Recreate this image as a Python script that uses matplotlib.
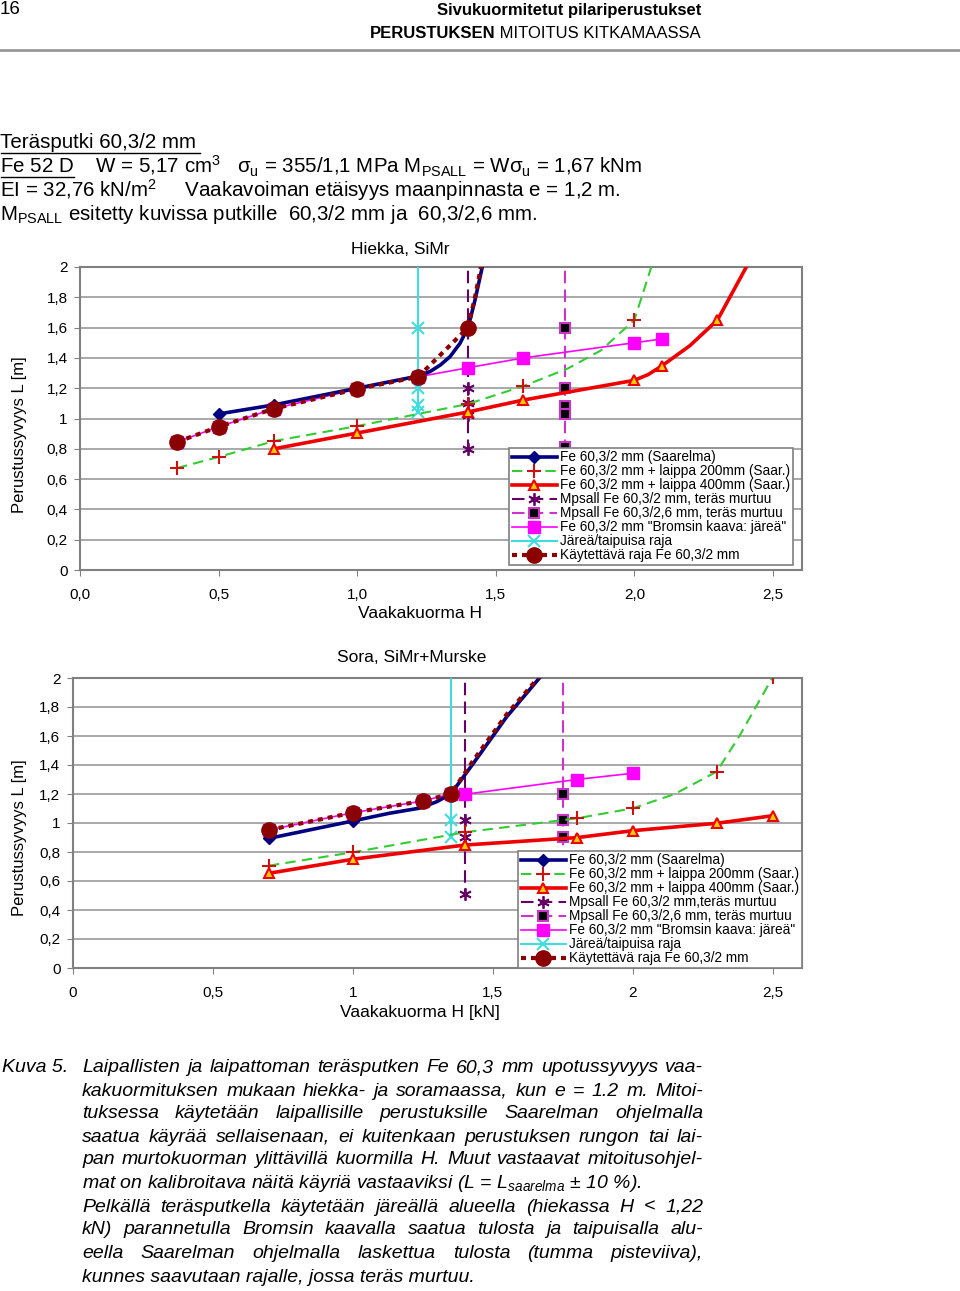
import matplotlib
matplotlib.use('Agg')
from matplotlib import pyplot as plt
from matplotlib.lines import Line2D

plt.rcParams['font.family'] = ['Liberation Sans', 'DejaVu Sans']
plt.rcParams['mathtext.fontset'] = 'custom'
plt.rcParams['mathtext.rm'] = 'Liberation Sans'
plt.rcParams['mathtext.it'] = 'Liberation Sans:italic'
plt.rcParams['mathtext.bf'] = 'Liberation Sans:bold'

W, H = 960, 1291

# ---- data: Hiekka, SiMr (top chart) ----
hk_saar_h = [0.5, 0.7, 1.0, 1.22, 1.263, 1.3, 1.335, 1.371, 1.4, 1.425, 1.455]
hk_saar_l = [1.03, 1.09, 1.2, 1.28, 1.31, 1.353, 1.408, 1.496, 1.6, 1.78, 2.03]
hk_saar_mk = [0, 1, 2, 3, 8]

hk_l200_h = [0.35, 0.5, 0.7, 1.0, 1.22, 1.4, 1.6, 1.76, 1.88, 2.0, 2.063]
hk_l200_l = [0.673, 0.746, 0.851, 0.95, 1.03, 1.096, 1.214, 1.33, 1.45, 1.65, 2.01]
hk_l200_mk = [0, 1, 2, 3, 5, 6, 9]

hk_l400_h = [0.7, 1.0, 1.4, 1.6, 2.0, 2.05, 2.1, 2.2, 2.3, 2.413]
hk_l400_l = [0.8, 0.904, 1.043, 1.122, 1.252, 1.29, 1.348, 1.48, 1.65, 2.03]
hk_l400_mk = [0, 1, 2, 3, 4, 6, 8]

hk_mp2_h = [1.4, 1.4, 1.4, 1.4, 1.4]
hk_mp2_l = [2.1, 1.2, 1.1, 1.02, 0.8]

hk_mp26_h = [1.75, 1.75, 1.75, 1.75, 1.75, 1.75]
hk_mp26_l = [2.1, 1.6, 1.2, 1.085, 1.03, 0.81]

hk_brom_h = [0.35, 0.5, 0.7, 1.0, 1.22, 1.4, 1.6, 2.0, 2.1]
hk_brom_l = [0.845, 0.945, 1.065, 1.195, 1.275, 1.335, 1.4, 1.5, 1.525]

hk_jar_h = [1.22, 1.22, 1.22, 1.22, 1.22]
hk_jar_l = [2.1, 1.6, 1.2, 1.09, 1.04]

hk_kayt_h = [0.35, 0.5, 0.7, 1.0, 1.22, 1.4, 1.425, 1.45]
hk_kayt_l = [0.845, 0.945, 1.065, 1.195, 1.275, 1.6, 1.8, 2.03]
hk_kayt_mk = [0, 1, 2, 3, 4, 5]

# ---- data: Sora, SiMr+Murske (bottom chart) ----
so_saar_h = [0.7, 1.0, 1.13, 1.24, 1.3, 1.35, 1.43, 1.55, 1.68]
so_saar_l = [0.894, 1.014, 1.067, 1.103, 1.147, 1.2, 1.41, 1.733, 2.03]
so_saar_mk = [0, 1, 5]

so_l200_h = [0.7, 1.0, 1.4, 1.75, 1.8, 2.0, 2.15, 2.3, 2.38, 2.5]
so_l200_l = [0.706, 0.798, 0.936, 1.02, 1.032, 1.101, 1.2, 1.354, 1.595, 2.005]
so_l200_mk = [0, 1, 2, 4, 5, 7, 9]

so_l400_h = [0.7, 1.0, 1.4, 1.8, 2.0, 2.3, 2.5]
so_l400_l = [0.653, 0.75, 0.848, 0.899, 0.947, 0.998, 1.05]

so_mp2_h = [1.4, 1.4, 1.4, 1.4]
so_mp2_l = [2.1, 1.02, 0.905, 0.51]

so_mp26_h = [1.75, 1.75, 1.75, 1.75, 1.75]
so_mp26_l = [2.1, 1.2, 1.02, 0.906, 0.7]

so_brom_h = [0.7, 1.0, 1.25, 1.35, 1.4, 1.8, 2.0]
so_brom_l = [0.952, 1.071, 1.152, 1.2, 1.198, 1.3, 1.343]

so_jar_h = [1.35, 1.35, 1.35, 1.35]
so_jar_l = [2.1, 1.2, 1.02, 0.905]

so_kayt_h = [0.7, 1.0, 1.25, 1.35, 1.43, 1.55, 1.68]
so_kayt_l = [0.952, 1.071, 1.152, 1.2, 1.43, 1.75, 2.04]
so_kayt_mk = [0, 1, 2, 3]

labels = ['Fe 60,3/2 mm (Saarelma)',
          'Fe 60,3/2 mm + laippa 200mm (Saar.)',
          'Fe 60,3/2 mm + laippa 400mm (Saar.)',
          'Mpsall Fe 60,3/2 mm, teräs murtuu',
          'Mpsall Fe 60,3/2,6 mm, teräs murtuu',
          'Fe 60,3/2 mm "Bromsin kaava: järeä"',
          'Järeä/taipuisa raja',
          'Käytettävä raja Fe 60,3/2 mm']
labels_b = list(labels)
labels_b[3] = 'Mpsall Fe 60,3/2 mm,teräs murtuu'

y_ticks = [0, 0.2, 0.4, 0.6, 0.8, 1.0, 1.2, 1.4, 1.6, 1.8, 2.0]
y_ticklabels = ['0', '0,2', '0,4', '0,6', '0,8', '1', '1,2', '1,4', '1,6', '1,8', '2']
x_ticks = [0, 0.5, 1.0, 1.5, 2.0, 2.5]
x_ticklabels_top = ['0,0', '0,5', '1,0', '1,5', '2,0', '2,5']
x_ticklabels_bot = ['0', '0,5', '1', '1,5', '2', '2,5']


def fx(x):
    return x / W


def fy(y):
    return 1 - y / H


def draw_chart(ax, d, labs, xticklabels, legend_anchor):
    (saar, l200, l400, mp2, mp26, brom, jar, kayt) = d
    h = []
    h.append(ax.plot(*saar[:2], color='#000080', lw=2.6, marker='D', ms=6,
                     markevery=saar[2], zorder=6)[0])
    h.append(ax.plot(*l200[:2], color='#33CC33', lw=1.5, ls=(0, (5, 3)),
                     marker='+', ms=10, mew=1.5, mec='#CC1111',
                     markevery=l200[2], zorder=4)[0])
    h.append(ax.plot(*l400[:2], color='#EE0000', lw=2.6, marker='^', ms=7,
                     mfc='#FFCC00', mec='#EE0000', mew=1.5,
                     markevery=l400[2], zorder=4)[0])
    h.append(ax.plot(*mp2[:2], color='#660066', lw=1.5, ls=(0, (6, 3)),
                     marker=(6, 2, 0), ms=9, mew=1.3, mec='#660066',
                     markevery=list(range(1, len(mp2[0]))), zorder=3)[0])
    h.append(ax.plot(*mp26[:2], color='#CC33CC', lw=1.5, ls=(0, (6, 3)),
                     marker='s', ms=7, mfc='black', mec='#CC33CC', mew=1.5,
                     markevery=mp26[2], zorder=3)[0])
    h.append(ax.plot(*brom[:2], color='#FF00FF', lw=1.2, marker='s', ms=8,
                     zorder=5)[0])
    h.append(ax.plot(*jar[:2], color='#40DDE0', lw=1.5, marker='x', ms=9,
                     mew=1.5, markevery=list(range(1, len(jar[0]))), zorder=3)[0])
    h.append(ax.plot(*kayt[:2], color='#8B0000', lw=3, ls=(0, (1.2, 1.2)),
                     marker='o', ms=11, markevery=kayt[2], zorder=7)[0])

    ax.set_xlim(0, 2.605)
    ax.set_ylim(0, 2.0)
    ax.set_yticks(y_ticks)
    ax.set_yticklabels(y_ticklabels)
    ax.set_xticks(x_ticks)
    ax.set_xticklabels(xticklabels)
    ax.tick_params(axis='y', labelsize=11, length=4, color='#808080', pad=5)
    ax.tick_params(axis='x', labelsize=11, length=4, color='#808080', pad=9)
    ax.yaxis.grid(True, color='#999999', lw=1.2)
    ax.set_axisbelow(True)
    for s in ax.spines.values():
        s.set_color('#808080')
        s.set_linewidth(1.5)

    leg = ax.legend(h, labs, loc='lower right', bbox_to_anchor=legend_anchor,
                    borderaxespad=0, fontsize=9.8, handlelength=3.3,
                    labelspacing=0.0, handletextpad=0.25, borderpad=0.2,
                    fancybox=False, framealpha=1, edgecolor='#808080')
    leg.get_frame().set_linewidth(1.2)
    leg.set_zorder(10)


fig = plt.figure(figsize=(9.6, 12.91), dpi=100)

ax1 = fig.add_axes([fx(80), fy(570), fx(722), 303 / H])
draw_chart(ax1, [(hk_saar_h, hk_saar_l, hk_saar_mk),
                 (hk_l200_h, hk_l200_l, hk_l200_mk),
                 (hk_l400_h, hk_l400_l, hk_l400_mk),
                 (hk_mp2_h, hk_mp2_l),
                 (hk_mp26_h, hk_mp26_l, [1, 2, 3, 4, 5]),
                 (hk_brom_h, hk_brom_l),
                 (hk_jar_h, hk_jar_l),
                 (hk_kayt_h, hk_kayt_l, hk_kayt_mk)],
           labels, x_ticklabels_top, (0.9875, 0.0165))

ax2 = fig.add_axes([fx(73), fy(968), fx(729), 290 / H])
draw_chart(ax2, [(so_saar_h, so_saar_l, so_saar_mk),
                 (so_l200_h, so_l200_l, so_l200_mk),
                 (so_l400_h, so_l400_l, list(range(len(so_l400_h)))),
                 (so_mp2_h, so_mp2_l),
                 (so_mp26_h, so_mp26_l, [1, 2, 3]),
                 (so_brom_h, so_brom_l),
                 (so_jar_h, so_jar_l),
                 (so_kayt_h, so_kayt_l, so_kayt_mk)],
           labels_b, x_ticklabels_bot, (1.0, 0.0))

# chart titles and axis labels
fig.text(fx(400), fy(250), 'Hiekka, SiMr', fontsize=12.5, ha='center', va='center')
fig.text(fx(420), fy(613), 'Vaakakuorma H', fontsize=12.5, ha='center', va='center')
fig.text(fx(20), fy(435), 'Perustussyvyys L [m]', fontsize=12, rotation=90,
         ha='center', va='center')
fig.text(fx(412), fy(658), 'Sora, SiMr+Murske', fontsize=12.5, ha='center', va='center')
fig.text(fx(420), fy(1012), 'Vaakakuorma H [kN]', fontsize=12.5, ha='center', va='center')
fig.text(fx(20), fy(838), 'Perustussyvyys L [m]', fontsize=12, rotation=90,
         ha='center', va='center')

# page header
fig.text(fx(0), fy(10), '16', fontsize=13.5, ha='left', va='center')
fig.text(fx(701), fy(10), 'Sivukuormitetut pilariperustukset', fontsize=12,
         fontweight='bold', ha='right', va='center')
t_rest = fig.text(fx(701), fy(33), ' MITOITUS KITKAMAASSA', fontsize=12,
                  ha='right', va='center')
renderer = fig.canvas.get_renderer()
w_rest = t_rest.get_window_extent(renderer).width
fig.text(fx(701 - w_rest), fy(33), 'PERUSTUKSEN', fontsize=12,
         fontweight='bold', ha='right', va='center')
fig.add_artist(Line2D([0, 1], [fy(50), fy(50)], color='#999999', lw=2))

# spec text block
fs = 14.8
fig.text(fx(0), fy(142), 'Teräsputki 60,3/2 mm', fontsize=fs, va='center')
fig.text(fx(0), fy(166), 'Fe 52 D    W = 5,17 cm$^{3}$   σ$_{\\mathrm{u}}$ = 355/1,1 MPa '
         'M$_{\\mathrm{PSALL}}$ = Wσ$_{\\mathrm{u}}$ = 1,67 kNm', fontsize=fs, va='center')
fig.text(fx(0), fy(190), 'EI = 32,76 kN/m$^{2}$     Vaakavoiman etäisyys maanpinnasta '
         'e = 1,2 m.', fontsize=fs, va='center')
fig.text(fx(0), fy(214), 'M$_{\\mathrm{PSALL}}$ esitetty kuvissa putkille  60,3/2 mm ja  '
         '60,3/2,6 mm.', fontsize=fs, va='center')
fig.add_artist(Line2D([fx(1), fx(200)], [fy(153), fy(153)], color='black', lw=1))
fig.add_artist(Line2D([fx(1), fx(74)], [fy(177), fy(177)], color='black', lw=1))

# caption
cap_lines = [
    ('Laipallisten ja laipattoman teräsputken Fe 60,3 mm upotussyvyys vaa-', True),
    ('kakuormituksen mukaan hiekka- ja soramaassa, kun e = 1.2 m. Mitoi-', True),
    ('tuksessa käytetään laipallisille perustuksille Saarelman ohjelmalla', True),
    ('saatua käyrää sellaisenaan, ei kuitenkaan perustuksen rungon tai lai-', True),
    ('pan murtokuorman ylittävillä kuormilla H. Muut vastaavat mitoitusohjel-', True),
    ('mat on kalibroitava näitä käyriä vastaaviksi (L = L$_{\\mathit{saarelma}}$ ± 10 %).', False),
    ('Pelkällä teräsputkella käytetään järeällä alueella (hiekassa H < 1,22', True),
    ('kN) parannetulla Bromsin kaavalla saatua tulosta ja taipuisalla alu-', True),
    ('eella Saarelman ohjelmalla laskettua tulosta (tumma pisteviiva),', True),
    ('kunnes saavutaan rajalle, jossa teräs murtuu.', False),
]
cap_y = [1068, 1091, 1114, 1137, 1160, 1183, 1207, 1230, 1253, 1277]
cap_fs = 14
fig.text(fx(2), fy(1068), 'Kuva 5.', fontsize=cap_fs, style='italic', va='center')
x0, x1 = 82, 703
for (line, just), y in zip(cap_lines, cap_y):
    if not just:
        fig.text(fx(x0), fy(y), line, fontsize=cap_fs, style='italic', va='center')
        continue
    words = line.split()
    texts = [fig.text(0, fy(y), wd, fontsize=cap_fs, style='italic', va='center')
             for wd in words]
    widths = [t.get_window_extent(renderer).width for t in texts]
    gap = (x1 - x0 - sum(widths)) / (len(words) - 1)
    xp = x0
    for t, wd in zip(texts, widths):
        t.set_x(fx(xp))
        xp += wd + gap

fig.savefig('out.png', dpi=100)
